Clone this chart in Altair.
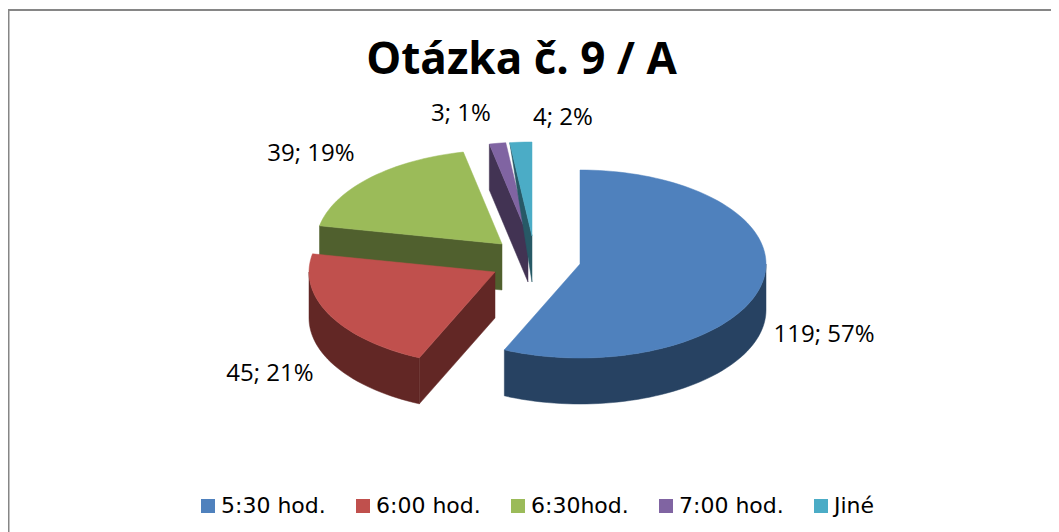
import math
import altair as alt
import pandas as pd

categories = ["5:30 hod.", "6:00 hod.", "6:30hod.", "7:00 hod.", "Jiné"]
values = [119, 45, 39, 3, 4]
top_colors = ["#4F81BD", "#C0504D", "#9BBB59", "#8064A2", "#4BACC6"]
wall_colors = ["#274262", "#622725", "#50602E", "#423353", "#275966"]

# layout of the exploded 3-D pie, in picture pixels
centers = [(580, 264), (495, 272), (502, 244), (528, 236), (532, 236)]
label_pos = [(824, 335), (270, 374), (311, 154), (461, 114), (563, 118)]
RX, RY, DEPTH = 186, 94, 46
W, H = 1043, 524
total = sum(values)


def rim(c, a):
    r = math.radians(a)
    return (c[0] + RX * math.sin(r), c[1] - RY * math.cos(r))


def arc(c, a0, a1):
    n = max(2, int(abs(a1 - a0) / 2))
    return [rim(c, a0 + (a1 - a0) * k / n) for k in range(n + 1)]


def down(pts):
    return [(x, y + DEPTH) for x, y in pts]


starts, a = [], 0.0
for v in values:
    starts.append(a)
    a += v / total * 360
ends = starts[1:] + [360.0]

xs = alt.Scale(domain=[8, 8 + W], range=[0, W])
ys = alt.Scale(domain=[8, 8 + H], range=[0, H])


def frame(pts):
    pts = list(pts) + [pts[0]]
    return pd.DataFrame({"x": [p[0] for p in pts], "y": [p[1] for p in pts], "i": range(len(pts))})


def poly_enc():
    return dict(
        x=alt.X("x:Q", scale=xs, axis=None),
        y=alt.Y("y:Q", scale=ys, axis=None),
        order="i:Q",
    )


def wall(pts, color):
    return alt.Chart(frame(pts)).mark_line(fill=color, stroke=color, strokeWidth=0.5).encode(**poly_enc())


def top(i):
    c = centers[i]
    d = frame([c] + arc(c, starts[i], ends[i])).assign(cat=categories[i])
    return (
        alt.Chart(d)
        .mark_line(fill=top_colors[i], stroke=top_colors[i], strokeWidth=0.5)
        .encode(**poly_enc())
    )


def cut(i, a_):
    c = centers[i]
    p = rim(c, a_)
    return [p, c, (c[0], c[1] + DEPTH), (p[0], p[1] + DEPTH)]


def sliver(i, a_):
    c = centers[i]
    return [rim(c, a_), c, (c[0], c[1] + DEPTH)]


def outer(i, a0, a1):
    c = centers[i]
    pts = arc(c, a0, a1)
    return pts + down(pts)[::-1]


layers = [
    wall(cut(3, starts[3]), wall_colors[3]), top(3),
    wall(sliver(4, starts[4]), wall_colors[4]), top(4),
    wall(cut(2, starts[2]), wall_colors[2]), top(2),
    wall(outer(0, 90, ends[0]), wall_colors[0]), top(0),
    wall(outer(1, starts[1], 270), wall_colors[1]),
    wall(cut(1, starts[1]), wall_colors[1]), top(1),
]

labels = pd.DataFrame({
    "x": [p[0] for p in label_pos],
    "y": [p[1] for p in label_pos],
    "t": [f"{v}; {round(v / total * 100)}%" for v in values],
})
text = alt.Chart(labels).mark_text(font="Open Sans", fontSize=24, color="#000000").encode(
    x=alt.X("x:Q", scale=xs, axis=None), y=alt.Y("y:Q", scale=ys, axis=None), text="t:N"
)

legend_df = pd.DataFrame({"cat": categories, "x": [0] * 5, "y": [0] * 5})
legend_layer = alt.Chart(legend_df).mark_square(size=0, opacity=1).encode(
    x=alt.X("x:Q", scale=xs, axis=None),
    y=alt.Y("y:Q", scale=ys, axis=None),
    fill=alt.Fill(
        "cat:N",
        scale=alt.Scale(domain=categories, range=top_colors),
        legend=alt.Legend(
            title=None, orient="none", legendX=189, legendY=487, direction="horizontal",
            columns=5, symbolType="square", symbolSize=196, symbolStrokeWidth=0,
            labelFont="DejaVu Sans", labelFontSize=22, labelColor="#000000",
            columnPadding=26, symbolOffset=0, labelOffset=2, labelLimit=200,
        ),
        sort=categories,
    ),
)

border_top = alt.Chart(pd.DataFrame({"a": [0]})).mark_rule(color="#868686", strokeWidth=2).encode(
    x=alt.value(0), x2=alt.value(W), y=alt.value(2)
)
border_left = alt.Chart(pd.DataFrame({"a": [0]})).mark_rule(color="#868686", strokeWidth=2).encode(
    x=alt.value(0.5), y=alt.value(1), y2=alt.value(H)
)

chart = (
    alt.layer(border_top, border_left, *layers, text, legend_layer)
    .properties(
        width=W, height=H, padding=0, autosize=alt.AutoSizeParams(type="none"),
        title=alt.TitleParams(
            "Otázka č. 9 / A", font="Open Sans", fontSize=44, fontWeight="bold", color="#000000",
            anchor="middle", frame="group", baseline="alphabetic", offset=0, dy=118, dx=-8,
        ),
    )
    .configure_view(stroke=None)
    .resolve_scale(x="shared", y="shared")
)

chart.save("out.html", embed_options={"renderer": "svg", "actions": False})
